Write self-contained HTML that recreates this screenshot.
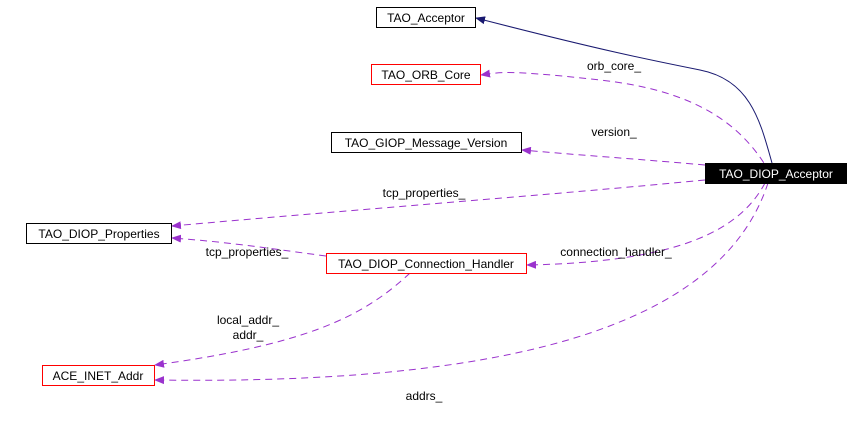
<!DOCTYPE html>
<html><head><style>body{margin:0;background:#fff}svg{display:block}text{font-family:"Liberation Sans",sans-serif;font-size:12px}</style></head><body>
<svg width="868" height="431" viewBox="0 0 868 431" xmlns="http://www.w3.org/2000/svg">
<defs>
<marker id="p" markerWidth="10" markerHeight="8" refX="9" refY="4" orient="auto" markerUnits="userSpaceOnUse"><path d="M0,0L10,4L0,8z" fill="#9a32cd"/></marker>
<marker id="n" markerWidth="10" markerHeight="8" refX="9" refY="4" orient="auto" markerUnits="userSpaceOnUse"><path d="M0,0L10,4L0,8z" fill="#191970"/></marker>
</defs>
<g fill="none" stroke="#9a32cd" stroke-dasharray="7,5">
<path d="M770,173C740,120 690,90 600,80S500,72 481,75" marker-end="url(#p)"/>
<path d="M705,165C650,160 590,156 522,150" marker-end="url(#p)"/>
<path d="M705,180C550,195 350,210 172,226" marker-end="url(#p)"/>
<path d="M326,256C280,250 230,242 172,238" marker-end="url(#p)"/>
<path d="M765,183C740,230 680,262 527,265" marker-end="url(#p)"/>
<path d="M410,273C360,320 300,345 155,365" marker-end="url(#p)"/>
<path d="M768,183C720,330 500,385 155,380" marker-end="url(#p)"/>
</g>
<path d="M772,163C760,120 750,80 700,70S600,50 476,18" fill="none" stroke="#191970" marker-end="url(#n)"/>
<g stroke-width="1" fill="#fff">
<rect x="376.5" y="7.5" width="99" height="20" stroke="#000"/>
<rect x="371.5" y="64.5" width="109" height="20" stroke="#f00"/>
<rect x="331.5" y="132.5" width="190" height="20" stroke="#000"/>
<rect x="705.5" y="163.5" width="141" height="20" stroke="#000" fill="#000"/>
<rect x="26.5" y="223.5" width="145" height="20" stroke="#000"/>
<rect x="326.5" y="253.5" width="200" height="20" stroke="#f00"/>
<rect x="42.5" y="365.5" width="112" height="20" stroke="#f00"/>
</g>
<g text-anchor="middle">
<text x="426" y="22">TAO_Acceptor</text>
<text x="426" y="79">TAO_ORB_Core</text>
<text x="426" y="147">TAO_GIOP_Message_Version</text>
<text x="776" y="178" fill="#fff">TAO_DIOP_Acceptor</text>
<text x="99" y="238">TAO_DIOP_Properties</text>
<text x="426" y="268">TAO_DIOP_Connection_Handler</text>
<text x="98" y="380">ACE_INET_Addr</text>
<text x="614" y="70">orb_core_</text>
<text x="614" y="136">version_</text>
<text x="424" y="197">tcp_properties_</text>
<text x="247" y="256">tcp_properties_</text>
<text x="616" y="256">connection_handler_</text>
<text x="248" y="324">local_addr_</text>
<text x="248" y="339">addr_</text>
<text x="424" y="400">addrs_</text>
</g>
</svg>
</body></html>
